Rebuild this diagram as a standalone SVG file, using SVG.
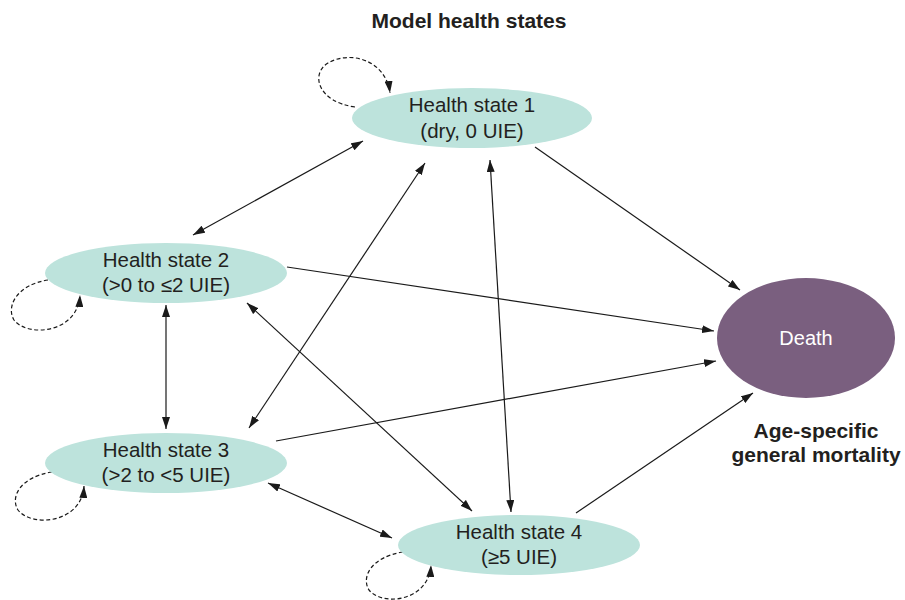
<svg xmlns="http://www.w3.org/2000/svg" width="905" height="600" viewBox="0 0 905 600">
<defs>
<marker id="ah" viewBox="0 0 12 8" refX="12" refY="4" markerWidth="12" markerHeight="8" markerUnits="userSpaceOnUse" orient="auto-start-reverse">
<path d="M0,0 L12,4 L0,8 Z" fill="#1a1a1a"/>
</marker>
</defs>
<style>
text{font-family:"Liberation Sans",Arial,sans-serif;fill:#231f20}
.lbl{font-size:20.5px;text-anchor:middle}
.bold{font-weight:bold;font-size:21px;text-anchor:middle}
.st{fill:#bde3dc}
.death{fill:#7a5f7f}
.c{fill:none;stroke:#1a1a1a;stroke-width:1.2}
.d{marker-start:url(#ah);marker-end:url(#ah)}
.s{marker-end:url(#ah)}
.loop{fill:none;stroke:#1a1a1a;stroke-width:1.2;stroke-dasharray:4,2.5;marker-end:url(#ah)}
</style>
<rect width="905" height="600" fill="#ffffff"/>
<text class="bold" x="469" y="28">Model health states</text>
<g id="connectors">
<line class="c d" x1="363" y1="141" x2="193" y2="235"/>
<line class="c s" x1="535" y1="147" x2="740" y2="290"/>
<line class="c d" x1="425" y1="163" x2="249" y2="428"/>
<line class="c d" x1="490" y1="160" x2="511" y2="512"/>
<line class="c s" x1="287" y1="267" x2="714" y2="331"/>
<line class="c d" x1="166" y1="305" x2="166" y2="429"/>
<line class="c d" x1="247" y1="303" x2="472" y2="511"/>
<line class="c s" x1="276" y1="441" x2="716" y2="361"/>
<line class="c d" x1="268" y1="483" x2="392" y2="538"/>
<line class="c s" x1="576" y1="513" x2="753" y2="393"/>
<path class="loop" d="M355,107 C318,102 310,74 328,63 C350,50 386,60 390,93"/>
<path class="loop" d="M48,280 C16,285 6,307 14,320 C28,338 78,333 80,295"/>
<path class="loop" d="M52,472 C20,477 10,497 18,510 C32,528 82,523 84,486"/>
<path class="loop" d="M403,552 C371,557 361,577 369,590 C383,607 429,601 431,565"/>
</g>
<g id="hs1">
<ellipse class="st" cx="472" cy="118" rx="120" ry="30"/>
<text class="lbl" x="472" y="112">Health state 1</text>
<text class="lbl" x="472" y="138">(dry, 0 UIE)</text>
</g>
<g id="hs2">
<ellipse class="st" cx="166" cy="273" rx="121" ry="30"/>
<text class="lbl" x="166" y="267">Health state 2</text>
<text class="lbl" x="166" y="292">(&gt;0 to ≤2 UIE)</text>
</g>
<g id="hs3">
<ellipse class="st" cx="166" cy="463" rx="121" ry="30"/>
<text class="lbl" x="166" y="457">Health state 3</text>
<text class="lbl" x="166" y="482">(&gt;2 to &lt;5 UIE)</text>
</g>
<g id="hs4">
<ellipse class="st" cx="519" cy="545" rx="121" ry="30"/>
<text class="lbl" x="519" y="539">Health state 4</text>
<text class="lbl" x="519" y="564">(≥5 UIE)</text>
</g>
<g id="death">
<ellipse class="death" cx="806" cy="338" rx="89" ry="60"/>
<text x="806" y="345" style="font-size:20px;text-anchor:middle;fill:#ffffff">Death</text>
</g>
<g id="death-label">
<text class="bold" x="816" y="438">Age-specific</text>
<text class="bold" x="816" y="462">general mortality</text>
</g>
</svg>
